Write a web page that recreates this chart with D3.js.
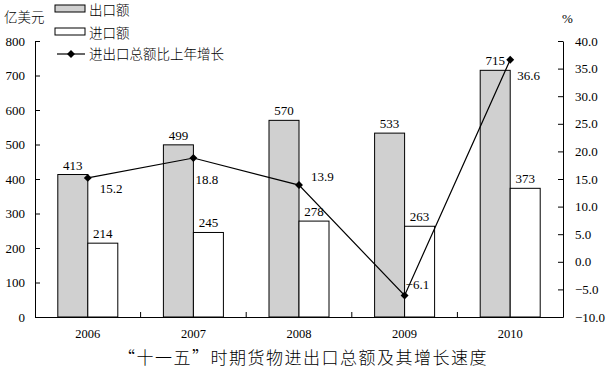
<!DOCTYPE html>
<html>
<head>
<meta charset="utf-8">
<script src="https://cdn.jsdelivr.net/npm/d3@7"></script>
<style>
  body { margin: 0; background: #fff; }
  text { font-family: "Liberation Serif", "DejaVu Serif", serif; }
  .cjk { font-family: "Noto Sans CJK SC", sans-serif; font-weight: 300; }
</style>
</head>
<body>
<svg id="chart" width="608" height="368"></svg>
<script>
// data
const years = ["2006", "2007", "2008", "2009", "2010"];
const exportVals = [413, 499, 570, 533, 715];
const importVals = [214, 245, 278, 263, 373];
const growth = [15.2, 18.8, 13.9, -6.1, 36.6];
const leftTicks = [0, 100, 200, 300, 400, 500, 600, 700, 800];
const rightTicks = [-10, -5, 0, 5, 10, 15, 20, 25, 30, 35, 40];

const svg = d3.select("#chart");
const plotLeft = 35, plotRight = 563, plotTop = 41, plotBottom = 317;

const x = d3.scaleBand().domain(years).range([plotLeft, plotRight]);
const sub = d3.scaleBand().domain(["exp", "imp"]).range([0, x.bandwidth()]).paddingOuter(0.76);
const yL = d3.scaleLinear().domain([0, 800]).range([plotBottom, plotTop]);
const yR = d3.scaleLinear().domain([-10, 40]).range([plotBottom, plotTop]);

const fmt = d => d < 0 ? "\u2212" + Math.abs(d).toFixed(1) : d.toFixed(1);

// bars
const g = svg.append("g");
g.selectAll(".exp")
    .data(years)
    .join("rect")
    .attr("x", (d, i) => x(d) + sub("exp"))
    .attr("y", (d, i) => yL(exportVals[i]))
    .attr("width", sub.bandwidth())
    .attr("height", (d, i) => plotBottom - yL(exportVals[i]))
    .attr("fill", "#d0d0d0")
    .attr("stroke", "#000")
    .attr("stroke-width", 1);
g.selectAll(".imp")
    .data(years)
    .join("rect")
    .attr("x", (d, i) => x(d) + sub("imp"))
    .attr("y", (d, i) => yL(importVals[i]))
    .attr("width", sub.bandwidth())
    .attr("height", (d, i) => plotBottom - yL(importVals[i]))
    .attr("fill", "#fff")
    .attr("stroke", "#000")
    .attr("stroke-width", 1);

// bar value labels
g.selectAll(".expLabel")
    .data(years)
    .join("text")
    .attr("x", (d, i) => x(d) + sub("exp") + sub.bandwidth() / 2)
    .attr("y", (d, i) => yL(exportVals[i]) - 5)
    .attr("text-anchor", "middle")
    .attr("font-size", "13px")
    .text((d, i) => exportVals[i]);
g.selectAll(".impLabel")
    .data(years)
    .join("text")
    .attr("x", (d, i) => x(d) + sub("imp") + sub.bandwidth() / 2)
    .attr("y", (d, i) => yL(importVals[i]) - 5)
    .attr("text-anchor", "middle")
    .attr("font-size", "13px")
    .text((d, i) => importVals[i]);

// axes
const axL = svg.append("g")
    .attr("transform", `translate(${plotLeft},0)`)
    .call(d3.axisLeft(yL).tickValues(leftTicks).tickSize(-5).tickSizeOuter(0).tickPadding(10));
const axR = svg.append("g")
    .attr("transform", `translate(${plotRight},0)`)
    .call(d3.axisRight(yR).tickValues(rightTicks).tickSize(-5).tickSizeOuter(0).tickPadding(12).tickFormat(fmt));
const axX = svg.append("g")
    .attr("transform", `translate(0,${plotBottom})`)
    .call(d3.axisBottom(x).tickSize(0).tickSizeOuter(0).tickPadding(12));
[axL, axR, axX].forEach(a => {
    a.selectAll("text").attr("font-family", "Liberation Serif, serif").attr("font-size", "13px").attr("fill", "#000");
    a.select(".domain").attr("stroke", "#000");
    a.selectAll("line").attr("stroke", "#000");
});
axX.selectAll("text").attr("font-size", "12.5px");

// x boundary ticks
svg.selectAll(".xtick")
    .data(years.slice(1))
    .join("line")
    .attr("x1", d => x(d)).attr("x2", d => x(d))
    .attr("y1", plotBottom).attr("y2", plotBottom - 5)
    .attr("stroke", "#000");

// growth line
const cx = d => x(d) + x.bandwidth() / 2;
const line = d3.line()
    .x((d, i) => cx(years[i]))
    .y(d => yR(d));
svg.append("path")
    .datum(growth)
    .attr("d", line)
    .attr("fill", "none")
    .attr("stroke", "#000")
    .attr("stroke-width", 1.2);
const diamond = d3.symbol().type(d3.symbolDiamond2).size(40);
svg.selectAll(".pt")
    .data(growth)
    .join("path")
    .attr("d", diamond)
    .attr("transform", (d, i) => `translate(${cx(years[i])},${yR(d)})`)
    .attr("fill", "#000");

// growth labels offsets
const offX = [12, 2, 12, 1, 7];
const offY = [15, 26, -4, -6, 20];
svg.selectAll(".gLabel")
    .data(growth)
    .join("text")
    .attr("x", (d, i) => cx(years[i]) + offX[i])
    .attr("y", (d, i) => yR(d) + offY[i])
    .attr("font-size", "13px")
    .text(fmt);

// unit labels
svg.append("text").attr("class", "cjk").attr("x", 4).attr("y", 22).attr("font-size", "13.5px").text("亿美元");
svg.append("text").attr("x", 562).attr("y", 23).attr("font-size", "13px").text("%");

// legend
const lg = svg.append("g");
lg.append("rect").attr("x", 55).attr("y", 5).attr("width", 30).attr("height", 7)
    .attr("fill", "#d0d0d0").attr("stroke", "#000");
lg.append("text").attr("class", "cjk").attr("x", 89).attr("y", 15).attr("font-size", "13.5px").text("出口额");
lg.append("rect").attr("x", 55).attr("y", 28).attr("width", 30).attr("height", 7)
    .attr("fill", "#fff").attr("stroke", "#000");
lg.append("text").attr("class", "cjk").attr("x", 89).attr("y", 38).attr("font-size", "13.5px").text("进口额");
lg.append("line").attr("x1", 57).attr("x2", 85).attr("y1", 54).attr("y2", 54).attr("stroke", "#000").attr("stroke-width", 1.2);
lg.append("path").attr("d", diamond).attr("transform", "translate(71,54)").attr("fill", "#000");
lg.append("text").attr("class", "cjk").attr("x", 89).attr("y", 59).attr("font-size", "13.5px").text("进出口总额比上年增长");

// title
svg.append("text").attr("class", "cjk")
    .attr("x", 303).attr("y", 364)
    .attr("text-anchor", "middle")
    .attr("font-size", "17px")
    .attr("letter-spacing", "1.5px")
    .text("“十一五”时期货物进出口总额及其增长速度");
</script>
</body>
</html>
